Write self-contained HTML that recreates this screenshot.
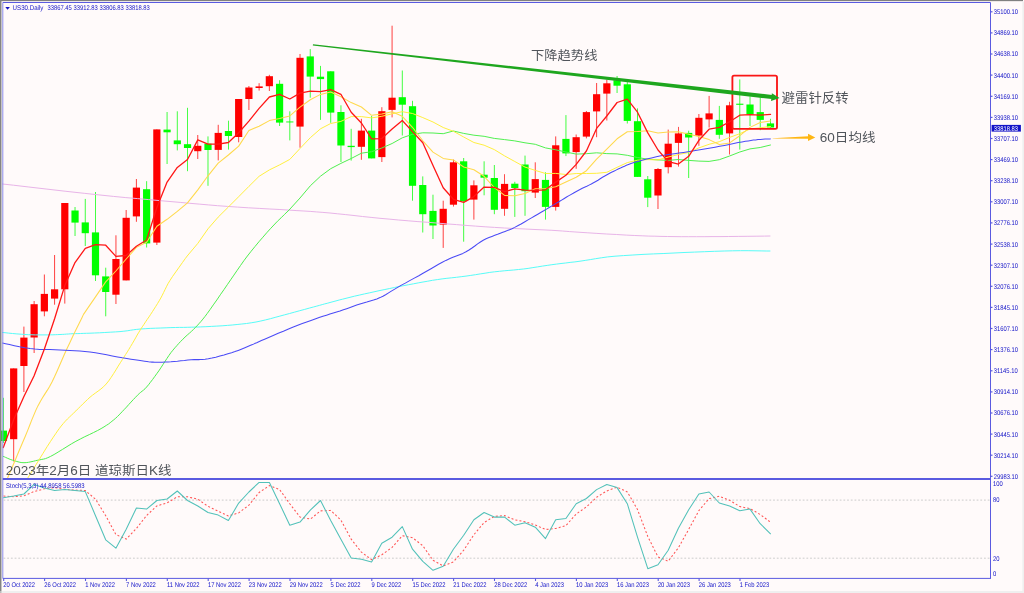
<!DOCTYPE html>
<html lang="zh">
<head>
<meta charset="utf-8">
<title>US30 Daily</title>
<style>
html,body{margin:0;padding:0;background:#fffafa;width:1024px;height:593px;overflow:hidden}
body{font-family:"Liberation Sans","Noto Sans CJK SC",sans-serif}
</style>
</head>
<body>
<svg width="1024" height="593" viewBox="0 0 1024 593" style="display:block;position:absolute;left:0;top:0;filter:blur(0.4px)">
<rect x="0" y="0" width="1024" height="593" fill="#fffafa"/>
<line x1="3.45" y1="397.8" x2="3.45" y2="443.0" stroke="#00ff00" stroke-width="0.85" opacity="0.88"/>
<rect x="-0.15" y="430.6" width="7.2" height="10.4" fill="#00ff00"/>
<line x1="13.68" y1="368.4" x2="13.68" y2="461.5" stroke="#ff0000" stroke-width="0.85" opacity="0.88"/>
<rect x="10.08" y="368.4" width="7.2" height="70.8" fill="#ff0000"/>
<line x1="23.90" y1="326.6" x2="23.90" y2="392.0" stroke="#ff0000" stroke-width="0.85" opacity="0.88"/>
<rect x="20.30" y="337.6" width="7.2" height="28.4" fill="#ff0000"/>
<line x1="34.13" y1="301.0" x2="34.13" y2="353.0" stroke="#ff0000" stroke-width="0.85" opacity="0.88"/>
<rect x="30.53" y="304.2" width="7.2" height="33.3" fill="#ff0000"/>
<line x1="44.36" y1="274.5" x2="44.36" y2="316.3" stroke="#ff0000" stroke-width="0.85" opacity="0.88"/>
<rect x="40.76" y="293.9" width="7.2" height="17.5" fill="#ff0000"/>
<line x1="54.59" y1="255.0" x2="54.59" y2="304.7" stroke="#ff0000" stroke-width="0.85" opacity="0.88"/>
<rect x="50.99" y="289.3" width="7.2" height="9.3" fill="#ff0000"/>
<line x1="64.81" y1="203.0" x2="64.81" y2="303.6" stroke="#ff0000" stroke-width="0.85" opacity="0.88"/>
<rect x="61.21" y="203.0" width="7.2" height="86.3" fill="#ff0000"/>
<line x1="75.04" y1="207.0" x2="75.04" y2="236.0" stroke="#00ff00" stroke-width="0.85" opacity="0.88"/>
<rect x="71.44" y="210.5" width="7.2" height="12.1" fill="#00ff00"/>
<line x1="85.27" y1="198.9" x2="85.27" y2="246.0" stroke="#00ff00" stroke-width="0.85" opacity="0.88"/>
<rect x="81.67" y="222.4" width="7.2" height="10.8" fill="#00ff00"/>
<line x1="95.49" y1="192.0" x2="95.49" y2="281.0" stroke="#00ff00" stroke-width="0.85" opacity="0.88"/>
<rect x="91.89" y="232.4" width="7.2" height="42.9" fill="#00ff00"/>
<line x1="105.72" y1="267.7" x2="105.72" y2="316.3" stroke="#00ff00" stroke-width="0.85" opacity="0.88"/>
<rect x="102.12" y="276.4" width="7.2" height="15.6" fill="#00ff00"/>
<line x1="115.95" y1="235.3" x2="115.95" y2="304.0" stroke="#ff0000" stroke-width="0.85" opacity="0.88"/>
<rect x="112.35" y="259.0" width="7.2" height="35.7" fill="#ff0000"/>
<line x1="126.17" y1="210.0" x2="126.17" y2="280.4" stroke="#ff0000" stroke-width="0.85" opacity="0.88"/>
<rect x="122.57" y="217.8" width="7.2" height="62.6" fill="#ff0000"/>
<line x1="136.40" y1="179.0" x2="136.40" y2="221.8" stroke="#ff0000" stroke-width="0.85" opacity="0.88"/>
<rect x="132.80" y="187.6" width="7.2" height="28.8" fill="#ff0000"/>
<line x1="146.63" y1="181.2" x2="146.63" y2="247.5" stroke="#00ff00" stroke-width="0.85" opacity="0.88"/>
<rect x="143.03" y="189.2" width="7.2" height="54.2" fill="#00ff00"/>
<line x1="156.85" y1="129.4" x2="156.85" y2="245.0" stroke="#ff0000" stroke-width="0.85" opacity="0.88"/>
<rect x="153.25" y="129.4" width="7.2" height="113.2" fill="#ff0000"/>
<line x1="167.08" y1="112.0" x2="167.08" y2="164.0" stroke="#00ff00" stroke-width="0.85" opacity="0.88"/>
<rect x="163.48" y="129.6" width="7.2" height="2.7" fill="#00ff00"/>
<line x1="177.31" y1="111.3" x2="177.31" y2="150.4" stroke="#00ff00" stroke-width="0.85" opacity="0.88"/>
<rect x="173.71" y="140.4" width="7.2" height="3.8" fill="#00ff00"/>
<line x1="187.54" y1="107.8" x2="187.54" y2="171.2" stroke="#00ff00" stroke-width="0.85" opacity="0.88"/>
<rect x="183.94" y="144.2" width="7.2" height="3.8" fill="#00ff00"/>
<line x1="197.76" y1="135.0" x2="197.76" y2="159.0" stroke="#ff0000" stroke-width="0.85" opacity="0.88"/>
<rect x="194.16" y="145.8" width="7.2" height="5.4" fill="#ff0000"/>
<line x1="207.99" y1="136.4" x2="207.99" y2="185.8" stroke="#00ff00" stroke-width="0.85" opacity="0.88"/>
<rect x="204.39" y="143.7" width="7.2" height="6.3" fill="#00ff00"/>
<line x1="218.22" y1="124.8" x2="218.22" y2="160.4" stroke="#ff0000" stroke-width="0.85" opacity="0.88"/>
<rect x="214.62" y="132.9" width="7.2" height="17.0" fill="#ff0000"/>
<line x1="228.44" y1="120.7" x2="228.44" y2="149.6" stroke="#00ff00" stroke-width="0.85" opacity="0.88"/>
<rect x="224.84" y="131.0" width="7.2" height="5.0" fill="#00ff00"/>
<line x1="238.67" y1="99.0" x2="238.67" y2="142.3" stroke="#ff0000" stroke-width="0.85" opacity="0.88"/>
<rect x="235.07" y="99.0" width="7.2" height="38.0" fill="#ff0000"/>
<line x1="248.90" y1="86.0" x2="248.90" y2="110.0" stroke="#ff0000" stroke-width="0.85" opacity="0.88"/>
<rect x="245.30" y="87.5" width="7.2" height="11.5" fill="#ff0000"/>
<line x1="259.12" y1="83.2" x2="259.12" y2="90.6" stroke="#ff0000" stroke-width="0.85" opacity="0.88"/>
<rect x="255.53" y="86.4" width="7.2" height="1.6" fill="#ff0000"/>
<line x1="269.35" y1="74.8" x2="269.35" y2="91.0" stroke="#ff0000" stroke-width="0.85" opacity="0.88"/>
<rect x="265.75" y="76.2" width="7.2" height="10.0" fill="#ff0000"/>
<line x1="279.58" y1="80.2" x2="279.58" y2="126.0" stroke="#00ff00" stroke-width="0.85" opacity="0.88"/>
<rect x="275.98" y="83.8" width="7.2" height="38.8" fill="#00ff00"/>
<line x1="289.81" y1="111.3" x2="289.81" y2="140.4" stroke="#00ff00" stroke-width="0.85" opacity="0.88"/>
<rect x="286.21" y="121.5" width="7.2" height="0.9" fill="#00ff00"/>
<line x1="300.03" y1="54.0" x2="300.03" y2="147.7" stroke="#ff0000" stroke-width="0.85" opacity="0.88"/>
<rect x="296.43" y="57.8" width="7.2" height="68.8" fill="#ff0000"/>
<line x1="310.26" y1="49.1" x2="310.26" y2="97.7" stroke="#00ff00" stroke-width="0.85" opacity="0.88"/>
<rect x="306.66" y="56.4" width="7.2" height="20.2" fill="#00ff00"/>
<line x1="320.49" y1="65.9" x2="320.49" y2="119.9" stroke="#00ff00" stroke-width="0.85" opacity="0.88"/>
<rect x="316.89" y="76.7" width="7.2" height="2.4" fill="#00ff00"/>
<line x1="330.71" y1="71.3" x2="330.71" y2="122.8" stroke="#00ff00" stroke-width="0.85" opacity="0.88"/>
<rect x="327.11" y="71.3" width="7.2" height="41.3" fill="#00ff00"/>
<line x1="340.94" y1="105.3" x2="340.94" y2="162.0" stroke="#00ff00" stroke-width="0.85" opacity="0.88"/>
<rect x="337.34" y="112.0" width="7.2" height="33.5" fill="#00ff00"/>
<line x1="351.17" y1="128.8" x2="351.17" y2="160.6" stroke="#00ff00" stroke-width="0.85" opacity="0.88"/>
<rect x="347.57" y="145.8" width="7.2" height="1.3" fill="#00ff00"/>
<line x1="361.39" y1="118.8" x2="361.39" y2="159.8" stroke="#ff0000" stroke-width="0.85" opacity="0.88"/>
<rect x="357.79" y="130.6" width="7.2" height="16.2" fill="#ff0000"/>
<line x1="371.62" y1="116.0" x2="371.62" y2="158.4" stroke="#00ff00" stroke-width="0.85" opacity="0.88"/>
<rect x="368.02" y="130.6" width="7.2" height="27.8" fill="#00ff00"/>
<line x1="381.85" y1="107.2" x2="381.85" y2="162.0" stroke="#ff0000" stroke-width="0.85" opacity="0.88"/>
<rect x="378.25" y="111.2" width="7.2" height="45.9" fill="#ff0000"/>
<line x1="392.08" y1="25.7" x2="392.08" y2="117.4" stroke="#ff0000" stroke-width="0.85" opacity="0.88"/>
<rect x="388.48" y="97.7" width="7.2" height="12.2" fill="#ff0000"/>
<line x1="402.30" y1="70.5" x2="402.30" y2="135.5" stroke="#00ff00" stroke-width="0.85" opacity="0.88"/>
<rect x="398.70" y="97.2" width="7.2" height="7.5" fill="#00ff00"/>
<line x1="412.53" y1="100.8" x2="412.53" y2="200.7" stroke="#00ff00" stroke-width="0.85" opacity="0.88"/>
<rect x="408.93" y="106.2" width="7.2" height="79.6" fill="#00ff00"/>
<line x1="422.76" y1="176.4" x2="422.76" y2="232.5" stroke="#00ff00" stroke-width="0.85" opacity="0.88"/>
<rect x="419.16" y="185.0" width="7.2" height="29.2" fill="#00ff00"/>
<line x1="432.98" y1="194.7" x2="432.98" y2="239.0" stroke="#00ff00" stroke-width="0.85" opacity="0.88"/>
<rect x="429.38" y="210.9" width="7.2" height="14.6" fill="#00ff00"/>
<line x1="443.21" y1="200.7" x2="443.21" y2="247.9" stroke="#ff0000" stroke-width="0.85" opacity="0.88"/>
<rect x="439.61" y="208.8" width="7.2" height="15.8" fill="#ff0000"/>
<line x1="453.44" y1="159.6" x2="453.44" y2="206.6" stroke="#ff0000" stroke-width="0.85" opacity="0.88"/>
<rect x="449.84" y="162.3" width="7.2" height="42.4" fill="#ff0000"/>
<line x1="463.67" y1="158.0" x2="463.67" y2="241.7" stroke="#00ff00" stroke-width="0.85" opacity="0.88"/>
<rect x="460.06" y="161.3" width="7.2" height="39.9" fill="#00ff00"/>
<line x1="473.89" y1="180.4" x2="473.89" y2="219.6" stroke="#ff0000" stroke-width="0.85" opacity="0.88"/>
<rect x="470.29" y="185.3" width="7.2" height="14.3" fill="#ff0000"/>
<line x1="484.12" y1="161.3" x2="484.12" y2="195.3" stroke="#00ff00" stroke-width="0.85" opacity="0.88"/>
<rect x="480.52" y="174.7" width="7.2" height="3.0" fill="#00ff00"/>
<line x1="494.35" y1="165.0" x2="494.35" y2="214.2" stroke="#00ff00" stroke-width="0.85" opacity="0.88"/>
<rect x="490.75" y="178.0" width="7.2" height="31.8" fill="#00ff00"/>
<line x1="504.57" y1="174.2" x2="504.57" y2="215.8" stroke="#ff0000" stroke-width="0.85" opacity="0.88"/>
<rect x="500.97" y="183.9" width="7.2" height="24.9" fill="#ff0000"/>
<line x1="514.80" y1="181.8" x2="514.80" y2="216.9" stroke="#00ff00" stroke-width="0.85" opacity="0.88"/>
<rect x="511.20" y="183.7" width="7.2" height="4.3" fill="#00ff00"/>
<line x1="525.03" y1="155.6" x2="525.03" y2="215.8" stroke="#00ff00" stroke-width="0.85" opacity="0.88"/>
<rect x="521.43" y="164.5" width="7.2" height="26.7" fill="#00ff00"/>
<line x1="535.25" y1="162.3" x2="535.25" y2="198.0" stroke="#ff0000" stroke-width="0.85" opacity="0.88"/>
<rect x="531.65" y="179.1" width="7.2" height="13.5" fill="#ff0000"/>
<line x1="545.48" y1="172.3" x2="545.48" y2="219.6" stroke="#00ff00" stroke-width="0.85" opacity="0.88"/>
<rect x="541.88" y="179.9" width="7.2" height="27.0" fill="#00ff00"/>
<line x1="555.71" y1="136.4" x2="555.71" y2="210.6" stroke="#ff0000" stroke-width="0.85" opacity="0.88"/>
<rect x="552.11" y="145.3" width="7.2" height="61.6" fill="#ff0000"/>
<line x1="565.94" y1="115.1" x2="565.94" y2="156.1" stroke="#00ff00" stroke-width="0.85" opacity="0.88"/>
<rect x="562.34" y="138.9" width="7.2" height="14.5" fill="#00ff00"/>
<line x1="576.16" y1="134.5" x2="576.16" y2="168.8" stroke="#ff0000" stroke-width="0.85" opacity="0.88"/>
<rect x="572.56" y="137.2" width="7.2" height="14.9" fill="#ff0000"/>
<line x1="586.39" y1="111.0" x2="586.39" y2="138.4" stroke="#ff0000" stroke-width="0.85" opacity="0.88"/>
<rect x="582.79" y="112.1" width="7.2" height="24.5" fill="#ff0000"/>
<line x1="596.62" y1="83.0" x2="596.62" y2="137.2" stroke="#ff0000" stroke-width="0.85" opacity="0.88"/>
<rect x="593.02" y="94.2" width="7.2" height="17.2" fill="#ff0000"/>
<line x1="606.84" y1="79.7" x2="606.84" y2="120.5" stroke="#ff0000" stroke-width="0.85" opacity="0.88"/>
<rect x="603.24" y="83.3" width="7.2" height="10.3" fill="#ff0000"/>
<line x1="617.07" y1="76.0" x2="617.07" y2="93.0" stroke="#00ff00" stroke-width="0.85" opacity="0.88"/>
<rect x="613.47" y="80.3" width="7.2" height="5.4" fill="#00ff00"/>
<line x1="627.30" y1="81.6" x2="627.30" y2="123.5" stroke="#00ff00" stroke-width="0.85" opacity="0.88"/>
<rect x="623.70" y="84.3" width="7.2" height="36.6" fill="#00ff00"/>
<line x1="637.52" y1="108.4" x2="637.52" y2="176.9" stroke="#00ff00" stroke-width="0.85" opacity="0.88"/>
<rect x="633.92" y="121.2" width="7.2" height="55.7" fill="#00ff00"/>
<line x1="647.75" y1="176.0" x2="647.75" y2="207.1" stroke="#00ff00" stroke-width="0.85" opacity="0.88"/>
<rect x="644.15" y="179.3" width="7.2" height="18.4" fill="#00ff00"/>
<line x1="657.98" y1="168.0" x2="657.98" y2="209.0" stroke="#ff0000" stroke-width="0.85" opacity="0.88"/>
<rect x="654.38" y="169.0" width="7.2" height="26.5" fill="#ff0000"/>
<line x1="668.21" y1="129.6" x2="668.21" y2="173.4" stroke="#ff0000" stroke-width="0.85" opacity="0.88"/>
<rect x="664.61" y="143.7" width="7.2" height="23.5" fill="#ff0000"/>
<line x1="678.43" y1="126.9" x2="678.43" y2="166.6" stroke="#ff0000" stroke-width="0.85" opacity="0.88"/>
<rect x="674.83" y="133.4" width="7.2" height="9.5" fill="#ff0000"/>
<line x1="688.66" y1="130.7" x2="688.66" y2="178.0" stroke="#00ff00" stroke-width="0.85" opacity="0.88"/>
<rect x="685.06" y="132.9" width="7.2" height="4.6" fill="#00ff00"/>
<line x1="698.89" y1="114.0" x2="698.89" y2="145.8" stroke="#ff0000" stroke-width="0.85" opacity="0.88"/>
<rect x="695.29" y="117.8" width="7.2" height="17.8" fill="#ff0000"/>
<line x1="709.11" y1="95.9" x2="709.11" y2="127.5" stroke="#ff0000" stroke-width="0.85" opacity="0.88"/>
<rect x="705.51" y="113.4" width="7.2" height="6.0" fill="#ff0000"/>
<line x1="719.34" y1="105.9" x2="719.34" y2="138.8" stroke="#00ff00" stroke-width="0.85" opacity="0.88"/>
<rect x="715.74" y="119.9" width="7.2" height="14.9" fill="#00ff00"/>
<line x1="729.57" y1="101.8" x2="729.57" y2="154.5" stroke="#ff0000" stroke-width="0.85" opacity="0.88"/>
<rect x="725.97" y="105.3" width="7.2" height="28.1" fill="#ff0000"/>
<line x1="739.79" y1="79.4" x2="739.79" y2="149.6" stroke="#00ff00" stroke-width="0.85" opacity="0.88"/>
<rect x="736.19" y="103.7" width="7.2" height="1.1" fill="#00ff00"/>
<line x1="750.02" y1="96.4" x2="750.02" y2="126.0" stroke="#00ff00" stroke-width="0.85" opacity="0.88"/>
<rect x="746.42" y="104.5" width="7.2" height="10.0" fill="#00ff00"/>
<line x1="760.25" y1="97.2" x2="760.25" y2="130.2" stroke="#00ff00" stroke-width="0.85" opacity="0.88"/>
<rect x="756.65" y="112.1" width="7.2" height="7.8" fill="#00ff00"/>
<line x1="770.48" y1="118.8" x2="770.48" y2="127.5" stroke="#00ff00" stroke-width="0.85" opacity="0.88"/>
<rect x="766.88" y="123.4" width="7.2" height="4.1" fill="#00ff00"/>
<polyline points="2.5,184.0 13.4,185.2 28.8,187.0 46.9,189.1 65.9,191.3 84.2,193.3 100.0,195.0 113.4,196.4 125.8,197.6 137.5,198.6 148.6,199.6 159.4,200.6 170.0,201.5 180.2,202.4 189.9,203.3 199.2,204.1 208.3,204.9 217.6,205.7 227.3,206.4 237.6,207.1 248.3,207.8 259.2,208.4 269.8,209.0 279.9,209.5 289.0,210.1 296.9,210.6 303.9,211.0 310.2,211.4 316.4,211.9 322.9,212.4 330.0,213.0 337.7,213.8 345.7,214.6 354.0,215.5 362.5,216.5 371.1,217.4 380.0,218.3 389.1,219.1 398.6,220.0 408.2,220.8 417.9,221.6 427.7,222.3 437.3,223.1 446.9,223.9 456.4,224.6 466.0,225.4 475.5,226.1 485.1,226.8 494.6,227.4 504.5,228.0 514.8,228.5 525.1,229.0 535.0,229.5 544.0,229.9 551.9,230.3 558.0,230.7 562.4,231.0 566.1,231.3 569.7,231.6 574.1,231.9 580.0,232.3 587.8,232.8 596.9,233.4 606.7,234.0 616.7,234.5 626.3,235.1 634.8,235.5 642.2,235.8 648.8,236.1 654.9,236.2 661.0,236.4 667.3,236.5 674.0,236.6 681.2,236.7 688.7,236.7 696.3,236.7 704.1,236.7 712.0,236.6 720.0,236.6 728.7,236.5 738.2,236.4 747.9,236.3 756.9,236.2 764.5,236.1 770.0,236.0" fill="none" stroke="#e8b4e8" stroke-width="1.0" stroke-linejoin="round" stroke-linecap="round" />
<polyline points="2.5,332.5 5.0,332.7 8.4,333.1 12.5,333.5 16.9,333.9 21.1,334.2 25.0,334.5 28.5,334.7 32.0,334.8 35.5,334.9 38.8,334.9 42.0,334.9 45.0,334.9 47.8,334.9 50.4,334.8 52.9,334.8 55.3,334.7 57.7,334.6 60.0,334.5 62.2,334.4 64.3,334.3 66.4,334.1 68.4,334.0 70.6,333.8 73.0,333.7 75.5,333.6 77.9,333.6 80.4,333.5 83.2,333.4 86.4,333.3 90.0,333.2 94.4,333.0 99.4,332.8 104.8,332.5 110.2,332.2 115.4,331.9 120.0,331.6 123.9,331.2 127.2,330.8 130.3,330.3 133.4,329.8 136.7,329.4 140.6,329.0 145.2,328.7 150.2,328.4 155.5,328.2 160.8,328.0 166.1,327.8 170.9,327.6 175.3,327.5 179.4,327.4 183.3,327.4 187.2,327.3 191.3,327.2 195.8,327.1 200.7,326.9 205.9,326.7 211.3,326.4 216.8,326.1 222.1,325.8 227.3,325.4 232.2,325.0 237.1,324.5 241.8,324.0 246.5,323.5 251.2,322.8 256.0,322.0 260.8,321.0 265.6,319.9 270.4,318.7 275.1,317.4 279.9,316.1 284.7,314.8 289.6,313.5 294.7,312.1 299.8,310.7 304.7,309.4 309.3,308.1 313.4,307.0 316.8,306.1 319.7,305.3 322.2,304.6 324.7,303.9 327.2,303.3 330.0,302.5 333.0,301.7 336.0,300.9 339.2,300.0 342.5,299.2 346.0,298.3 350.0,297.3 354.4,296.2 359.3,295.1 364.5,293.9 369.7,292.8 375.0,291.6 380.0,290.5 384.9,289.5 389.7,288.5 394.4,287.5 399.2,286.5 403.9,285.6 408.7,284.7 413.5,283.8 418.2,282.9 423.0,282.0 427.8,281.2 432.5,280.3 437.3,279.6 442.1,278.9 446.9,278.3 451.7,277.8 456.4,277.3 461.2,276.7 466.0,276.1 470.8,275.4 475.5,274.7 480.3,273.9 485.1,273.2 489.8,272.4 494.6,271.8 499.4,271.3 504.2,270.8 508.9,270.4 513.7,270.0 518.5,269.5 523.3,269.0 528.1,268.4 532.9,267.6 537.6,266.9 542.4,266.1 547.2,265.4 551.9,264.7 556.5,264.1 561.0,263.5 565.6,263.0 570.1,262.4 574.9,261.9 580.0,261.2 585.2,260.4 590.3,259.6 595.6,258.7 601.3,257.8 607.7,256.9 615.0,256.2 623.4,255.6 632.9,255.0 643.0,254.4 653.5,253.9 663.9,253.5 674.0,253.0 684.0,252.5 694.4,252.1 704.7,251.7 714.7,251.3 724.2,251.0 732.7,250.8 740.6,250.7 748.1,250.7 755.0,250.8 761.1,250.9 766.2,251.0 770.0,251.0" fill="none" stroke="#58fcf8" stroke-width="1.0" stroke-linejoin="round" stroke-linecap="round" />
<polyline points="3.3,456.4 4.3,456.8 5.6,457.4 7.2,458.1 9.0,458.9 10.8,459.6 12.6,460.2 14.3,460.7 16.2,461.3 18.0,461.8 19.9,462.3 21.9,462.6 24.0,462.7 26.2,462.6 28.5,462.3 30.9,461.8 33.3,461.3 35.6,460.7 37.9,460.2 39.9,459.8 41.8,459.4 43.5,459.1 45.5,458.6 47.8,457.7 50.6,456.4 54.1,454.5 58.1,452.1 62.5,449.4 67.0,446.6 71.5,443.8 75.9,441.3 80.3,439.0 84.8,436.7 89.3,434.6 93.6,432.5 97.6,430.5 101.1,428.6 104.0,426.9 106.3,425.4 108.4,424.1 110.2,422.7 111.9,421.3 113.8,419.8 115.7,418.2 117.4,416.6 119.1,414.9 120.8,413.1 122.5,411.3 124.4,409.3 126.5,407.1 128.7,404.6 131.0,402.1 133.3,399.6 135.5,397.3 137.5,395.2 139.2,393.6 140.7,392.3 142.1,391.2 143.5,390.1 145.0,388.8 146.6,387.0 148.5,384.8 150.4,382.3 152.5,379.6 154.6,376.7 156.7,373.8 158.8,370.9 160.8,367.9 162.8,364.8 164.9,361.6 166.9,358.5 168.9,355.5 170.9,352.7 172.9,350.2 174.9,347.8 176.9,345.6 178.8,343.4 180.8,341.3 182.9,339.2 185.0,337.1 187.2,335.1 189.4,333.2 191.6,331.2 193.7,329.2 195.8,327.1 197.7,325.1 199.4,323.2 201.1,321.3 202.9,319.1 204.9,316.6 207.3,313.4 210.1,309.5 213.3,304.9 216.8,300.0 220.3,294.8 223.9,289.7 227.3,284.7 230.6,279.9 233.9,275.1 237.2,270.3 240.5,265.5 243.9,260.7 247.4,256.0 251.1,251.3 255.0,246.5 258.9,241.8 262.9,237.2 266.7,232.8 270.3,228.8 273.9,225.0 277.5,221.2 281.1,217.8 284.3,214.6 287.0,212.0 289.0,210.1 300.0,198.0 310.3,185.8 320.5,176.2 330.7,168.7 340.9,163.4 351.2,158.5 361.4,153.2 371.6,151.7 381.8,148.0 392.1,143.5 402.3,137.8 412.5,134.3 422.8,132.8 433.0,133.0 443.2,133.7 453.4,131.0 463.7,133.4 473.9,135.2 484.1,136.3 494.3,138.4 504.6,139.6 514.8,140.9 525.0,142.8 535.3,144.3 545.5,147.9 555.7,149.8 565.9,152.0 576.2,154.1 586.4,153.7 596.6,152.8 606.8,153.6 617.1,153.9 627.3,155.3 637.5,157.5 647.8,159.2 658.0,159.9 668.2,160.4 678.4,159.5 688.7,160.4 698.9,161.1 709.1,161.4 719.3,159.7 729.6,156.0 739.8,152.0 750.0,148.9 760.2,147.5 770.5,145.0" fill="none" stroke="#50f050" stroke-width="1.0" stroke-linejoin="round" stroke-linecap="round" />
<polyline points="27.8,478.0 30.4,473.8 34.1,467.8 38.4,460.8 42.9,453.5 47.1,446.7 50.6,441.3 53.3,437.2 55.6,433.8 57.5,431.0 59.4,428.4 61.2,426.0 63.2,423.6 65.3,421.2 67.4,419.0 69.5,417.0 71.6,415.0 73.7,413.0 75.9,410.9 78.1,408.7 80.4,406.4 82.7,404.1 85.1,401.8 87.5,399.5 90.0,397.2 92.6,395.1 95.3,393.1 98.1,391.1 100.9,389.0 103.6,386.7 106.2,384.0 108.7,380.9 111.2,377.3 113.6,373.6 116.0,369.8 118.2,366.1 120.3,362.8 122.2,359.8 124.0,357.1 125.6,354.5 127.3,351.9 128.9,349.3 130.5,346.6 132.2,343.8 133.9,340.9 135.6,337.9 137.2,335.0 138.9,332.2 140.6,329.4 142.3,326.8 144.0,324.3 145.6,321.8 147.3,319.3 149.0,316.9 150.7,314.3 152.4,311.7 154.1,309.0 155.8,306.3 157.5,303.6 159.2,300.8 160.8,298.0 162.3,295.2 163.6,292.5 165.0,289.7 166.4,286.8 168.0,283.7 170.0,280.4 172.6,276.4 175.8,271.9 179.2,267.1 182.4,262.6 185.2,258.7 187.2,256.0 197.8,243.4 208.0,228.8 218.2,217.1 228.4,207.0 238.7,196.7 248.9,186.4 259.1,176.3 269.4,169.9 279.6,164.9 289.8,159.4 300.0,148.5 310.3,137.7 320.5,128.8 330.7,123.5 340.9,121.4 351.2,116.6 361.4,116.6 371.6,117.9 381.8,116.3 392.1,113.8 402.3,111.7 412.5,113.5 422.8,117.6 433.0,122.0 443.2,127.5 453.4,131.3 463.7,137.0 473.9,142.5 484.1,145.2 494.3,149.6 504.6,155.9 514.8,161.5 525.0,167.1 535.3,170.4 545.5,173.5 555.7,173.4 565.9,174.5 576.2,173.5 586.4,173.5 596.6,173.3 606.8,172.3 617.1,167.3 627.3,162.6 637.5,160.2 647.8,159.6 658.0,159.9 668.2,157.1 678.4,154.5 688.7,152.5 698.9,147.9 709.1,144.3 719.3,141.7 729.6,137.4 739.8,133.7 750.0,129.0 760.2,127.8 770.5,126.5" fill="none" stroke="#fff040" stroke-width="1.0" stroke-linejoin="round" stroke-linecap="round" />
<polyline points="7.6,478.0 9.6,473.3 12.4,466.7 15.7,459.0 19.1,450.8 22.4,443.0 25.3,436.2 27.7,430.4 29.8,425.0 31.8,419.9 33.8,415.1 35.8,410.4 37.9,405.9 40.2,401.7 42.5,397.8 44.8,394.1 47.2,390.4 49.6,386.4 52.0,382.0 54.4,377.0 56.8,371.7 59.2,366.2 61.7,360.5 64.2,354.7 66.8,349.0 69.7,342.9 72.8,336.3 76.1,329.6 79.1,323.4 81.7,318.2 83.5,314.4 95.5,296.9 105.7,281.9 115.9,271.0 126.2,259.0 136.4,247.4 146.6,242.3 156.9,226.3 167.1,219.3 177.3,211.4 187.5,202.9 197.8,189.9 208.0,175.8 218.2,163.1 228.4,155.0 238.7,146.1 248.9,130.5 259.1,126.2 269.4,120.6 279.6,118.4 289.8,115.9 300.0,107.1 310.3,99.7 320.5,94.4 330.7,92.0 340.9,96.7 351.2,102.6 361.4,107.0 371.6,115.3 381.8,114.1 392.1,111.7 402.3,116.3 412.5,127.3 422.8,140.8 433.0,152.1 443.2,158.4 453.4,159.9 463.7,167.0 473.9,169.7 484.1,176.3 494.3,187.5 504.6,195.4 514.8,195.7 525.0,193.4 535.3,188.7 545.5,188.5 555.7,186.8 565.9,182.1 576.2,177.3 586.4,170.7 596.6,159.1 606.8,149.1 617.1,138.8 627.3,131.8 637.5,131.6 647.8,130.7 658.0,133.0 668.2,132.1 678.4,131.7 688.7,134.2 698.9,136.6 709.1,139.6 719.3,144.5 729.6,142.9 739.8,135.7 750.0,127.4 760.2,122.5 770.5,120.9" fill="none" stroke="#ffd94c" stroke-width="1.05" stroke-linejoin="round" stroke-linecap="round" />
<polyline points="2.5,343.0 5.5,343.7 9.5,344.6 14.4,345.7 19.6,346.8 25.0,347.8 30.0,348.6 34.9,349.1 39.8,349.4 44.8,349.5 49.9,349.6 55.0,349.8 60.0,350.0 65.0,350.3 69.9,350.5 74.9,350.7 79.8,351.0 84.9,351.4 90.0,352.0 95.4,352.8 101.0,353.7 106.7,354.8 112.3,355.9 117.6,356.9 122.4,357.8 126.8,358.5 131.0,359.2 134.9,359.8 138.5,360.3 141.7,360.8 144.6,361.2 146.9,361.5 148.6,361.8 150.0,361.9 151.3,362.1 152.8,362.1 154.7,362.2 157.0,362.2 159.5,362.2 162.2,362.2 165.0,362.1 167.9,362.0 170.9,361.8 174.1,361.5 177.4,361.2 180.9,360.8 184.4,360.5 187.9,360.1 191.1,359.8 194.1,359.6 196.8,359.6 199.5,359.6 202.2,359.5 205.1,359.3 208.3,358.8 211.9,358.1 215.8,357.2 219.9,356.1 224.0,355.0 227.9,353.8 231.6,352.7 235.0,351.6 238.2,350.4 241.3,349.2 244.3,348.0 247.2,346.8 250.0,345.6 252.5,344.6 254.6,343.6 256.7,342.7 258.8,341.7 261.4,340.6 264.6,339.2 268.6,337.5 273.2,335.5 278.2,333.3 283.4,331.2 288.5,329.0 293.3,327.1 297.8,325.3 302.3,323.6 306.7,322.0 311.0,320.5 315.1,319.0 319.1,317.6 322.9,316.3 326.5,315.2 329.9,314.1 333.3,313.1 336.6,312.1 340.0,311.0 343.4,309.8 346.7,308.7 350.1,307.5 353.4,306.3 356.7,305.1 360.0,304.0 363.4,302.9 366.8,302.0 370.2,301.0 373.5,300.0 376.8,298.9 380.0,297.6 382.9,296.2 385.6,294.7 388.2,293.1 390.9,291.4 393.9,289.6 397.2,287.6 401.0,285.4 405.3,283.1 409.7,280.6 414.3,278.1 418.8,275.7 423.0,273.3 427.0,271.0 431.0,268.7 434.8,266.5 438.6,264.3 442.3,262.3 445.9,260.4 449.4,258.8 452.9,257.3 456.3,256.0 459.6,254.7 462.9,253.4 466.0,251.8 469.0,250.0 472.0,248.0 474.8,246.0 477.6,243.9 480.4,242.0 483.2,240.3 486.1,238.8 489.0,237.6 491.9,236.4 494.8,235.3 497.6,234.3 500.3,233.2 502.8,232.2 505.1,231.4 507.3,230.6 509.6,229.7 512.0,228.7 514.7,227.4 517.7,225.8 521.1,224.0 524.5,222.0 528.0,219.9 531.5,217.9 534.7,216.0 537.8,214.2 540.7,212.5 543.7,210.8 546.5,209.1 549.2,207.5 551.9,205.9 554.5,204.4 556.9,202.9 559.3,201.5 561.6,200.1 563.9,198.7 566.2,197.3 568.5,195.9 570.8,194.6 573.2,193.3 575.4,192.0 577.7,190.7 580.0,189.5 582.3,188.3 584.5,187.2 586.8,186.2 589.0,185.1 591.3,184.0 593.5,182.8 595.8,181.5 598.0,180.2 600.2,178.8 602.5,177.3 604.8,176.0 607.0,174.7 609.2,173.5 611.5,172.3 613.8,171.2 616.0,170.1 618.2,169.0 620.5,168.0 622.6,167.0 624.5,166.2 626.4,165.3 628.5,164.5 631.0,163.6 634.0,162.6 637.7,161.5 642.0,160.3 646.7,159.1 651.5,157.9 656.3,156.8 661.0,155.8 665.5,155.0 670.0,154.3 674.5,153.7 679.0,153.1 683.5,152.5 688.0,151.8 692.5,151.1 697.0,150.3 701.5,149.6 706.0,148.8 710.5,148.0 715.0,147.2 719.6,146.3 724.4,145.4 729.2,144.4 733.8,143.5 738.1,142.6 742.0,141.9 745.3,141.3 748.3,140.9 750.9,140.5 753.3,140.1 755.7,139.9 758.0,139.6 760.4,139.4 762.8,139.2 765.1,139.1 767.2,139.0 769.0,139.0 770.3,138.9" fill="none" stroke="#4a4af6" stroke-width="1.05" stroke-linejoin="round" stroke-linecap="round" />
<polyline points="3.3,447.6 13.5,420.0 23.7,397.0 34.0,376.0 44.4,349.0 54.6,318.7 64.8,285.6 75.0,262.6 85.3,248.4 95.5,244.7 105.7,245.2 115.9,256.4 126.2,255.5 136.4,246.3 146.6,240.0 156.9,207.4 167.1,182.1 177.3,167.4 187.5,159.5 197.8,139.9 208.0,144.1 218.2,144.2 228.4,142.5 238.7,132.7 248.9,121.1 259.1,108.4 269.4,97.0 279.6,94.3 289.8,99.0 300.0,93.1 310.3,91.1 320.5,91.7 330.7,89.7 340.9,94.3 351.2,112.2 361.4,123.0 371.6,138.8 381.8,138.6 392.1,129.0 402.3,120.5 412.5,131.6 422.8,142.7 433.0,165.6 443.2,187.8 453.4,199.3 463.7,202.4 473.9,196.6 484.1,187.1 494.3,187.3 504.6,191.6 514.8,188.9 525.0,190.1 535.3,190.4 545.5,189.8 555.7,182.1 565.9,175.2 576.2,164.4 586.4,151.0 596.6,128.4 606.8,116.0 617.1,102.5 627.3,99.2 637.5,112.2 647.8,132.9 658.0,150.0 668.2,161.6 678.4,164.1 688.7,156.3 698.9,140.3 709.1,129.2 719.3,127.4 729.6,121.8 739.8,115.2 750.0,114.6 760.2,115.1 770.5,114.4" fill="none" stroke="#ff1616" stroke-width="1.3" stroke-linejoin="round" stroke-linecap="round" />
<rect x="732.4" y="75.6" width="44.6" height="53.2" rx="1.6" fill="none" stroke="#fa1616" stroke-width="1.85"/>
<polygon points="312.8,45.4 771.8,99.1 772.2,94.9 313.0,44.2" fill="#1ea61e"/>
<polygon points="779.6,98.0 771.0,100.9 771.9,93.2" fill="#1ea61e"/>
<polygon points="772.7,138.15 808.5,136.2 808.5,138.7 772.7,138.6" fill="#ffb612"/>
<polygon points="815.3,137.4 808,133.8 808,141.0" fill="#ffb612"/>
<rect x="0" y="0" width="1023" height="1.15" fill="#808080"/>
<rect x="0" y="0" width="1.45" height="592" fill="#848484"/>
<rect x="0" y="591" width="1024" height="2" fill="#efefef"/>
<rect x="1022.4" y="1.6" width="1.6" height="593" fill="#efefef"/>
<rect x="0" y="591" width="1.5" height="2" fill="#bbb"/>
<line x1="2.8" y1="2.5" x2="990.5" y2="2.5" stroke="#5a5ae0" stroke-width="1"/>
<line x1="2.8" y1="2.5" x2="2.8" y2="578.4" stroke="#8a8aea" stroke-width="1"/>
<line x1="990.5" y1="2.5" x2="990.5" y2="578.4" stroke="#5a5ae0" stroke-width="1"/>
<line x1="2.8" y1="479.0" x2="990.5" y2="479.0" stroke="#5a5ae0" stroke-width="1.9"/>
<line x1="2.8" y1="578.4" x2="991.0" y2="578.4" stroke="#5a5ae0" stroke-width="1"/>
<line x1="990.5" y1="11.8" x2="992.5" y2="11.8" stroke="#5a5ae0" stroke-width="1.2"/>
<text transform="translate(993.80,14.25) scale(0.857,1)" font-family="Liberation Sans, sans-serif" font-size="6.8" fill="#1414c8" text-rendering="geometricPrecision">35100.10</text>
<line x1="990.5" y1="32.9" x2="992.5" y2="32.9" stroke="#5a5ae0" stroke-width="1.2"/>
<text transform="translate(993.80,35.37) scale(0.857,1)" font-family="Liberation Sans, sans-serif" font-size="6.8" fill="#1414c8" text-rendering="geometricPrecision">34869.10</text>
<line x1="990.5" y1="54.0" x2="992.5" y2="54.0" stroke="#5a5ae0" stroke-width="1.2"/>
<text transform="translate(993.80,56.48) scale(0.857,1)" font-family="Liberation Sans, sans-serif" font-size="6.8" fill="#1414c8" text-rendering="geometricPrecision">34638.10</text>
<line x1="990.5" y1="75.1" x2="992.5" y2="75.1" stroke="#5a5ae0" stroke-width="1.2"/>
<text transform="translate(993.80,77.59) scale(0.857,1)" font-family="Liberation Sans, sans-serif" font-size="6.8" fill="#1414c8" text-rendering="geometricPrecision">34400.10</text>
<line x1="990.5" y1="96.3" x2="992.5" y2="96.3" stroke="#5a5ae0" stroke-width="1.2"/>
<text transform="translate(993.80,98.71) scale(0.857,1)" font-family="Liberation Sans, sans-serif" font-size="6.8" fill="#1414c8" text-rendering="geometricPrecision">34169.10</text>
<line x1="990.5" y1="117.4" x2="992.5" y2="117.4" stroke="#5a5ae0" stroke-width="1.2"/>
<text transform="translate(993.80,119.82) scale(0.857,1)" font-family="Liberation Sans, sans-serif" font-size="6.8" fill="#1414c8" text-rendering="geometricPrecision">33938.10</text>
<line x1="990.5" y1="138.5" x2="992.5" y2="138.5" stroke="#5a5ae0" stroke-width="1.2"/>
<text transform="translate(993.80,140.94) scale(0.857,1)" font-family="Liberation Sans, sans-serif" font-size="6.8" fill="#1414c8" text-rendering="geometricPrecision">33707.10</text>
<line x1="990.5" y1="159.6" x2="992.5" y2="159.6" stroke="#5a5ae0" stroke-width="1.2"/>
<text transform="translate(993.80,162.05) scale(0.857,1)" font-family="Liberation Sans, sans-serif" font-size="6.8" fill="#1414c8" text-rendering="geometricPrecision">33469.10</text>
<line x1="990.5" y1="180.7" x2="992.5" y2="180.7" stroke="#5a5ae0" stroke-width="1.2"/>
<text transform="translate(993.80,183.17) scale(0.857,1)" font-family="Liberation Sans, sans-serif" font-size="6.8" fill="#1414c8" text-rendering="geometricPrecision">33238.10</text>
<line x1="990.5" y1="201.8" x2="992.5" y2="201.8" stroke="#5a5ae0" stroke-width="1.2"/>
<text transform="translate(993.80,204.28) scale(0.857,1)" font-family="Liberation Sans, sans-serif" font-size="6.8" fill="#1414c8" text-rendering="geometricPrecision">33007.10</text>
<line x1="990.5" y1="222.9" x2="992.5" y2="222.9" stroke="#5a5ae0" stroke-width="1.2"/>
<text transform="translate(993.80,225.40) scale(0.857,1)" font-family="Liberation Sans, sans-serif" font-size="6.8" fill="#1414c8" text-rendering="geometricPrecision">32776.10</text>
<line x1="990.5" y1="244.1" x2="992.5" y2="244.1" stroke="#5a5ae0" stroke-width="1.2"/>
<text transform="translate(993.80,246.51) scale(0.857,1)" font-family="Liberation Sans, sans-serif" font-size="6.8" fill="#1414c8" text-rendering="geometricPrecision">32538.10</text>
<line x1="990.5" y1="265.2" x2="992.5" y2="265.2" stroke="#5a5ae0" stroke-width="1.2"/>
<text transform="translate(993.80,267.63) scale(0.857,1)" font-family="Liberation Sans, sans-serif" font-size="6.8" fill="#1414c8" text-rendering="geometricPrecision">32307.10</text>
<line x1="990.5" y1="286.3" x2="992.5" y2="286.3" stroke="#5a5ae0" stroke-width="1.2"/>
<text transform="translate(993.80,288.75) scale(0.857,1)" font-family="Liberation Sans, sans-serif" font-size="6.8" fill="#1414c8" text-rendering="geometricPrecision">32076.10</text>
<line x1="990.5" y1="307.4" x2="992.5" y2="307.4" stroke="#5a5ae0" stroke-width="1.2"/>
<text transform="translate(993.80,309.86) scale(0.857,1)" font-family="Liberation Sans, sans-serif" font-size="6.8" fill="#1414c8" text-rendering="geometricPrecision">31845.10</text>
<line x1="990.5" y1="328.5" x2="992.5" y2="328.5" stroke="#5a5ae0" stroke-width="1.2"/>
<text transform="translate(993.80,330.97) scale(0.857,1)" font-family="Liberation Sans, sans-serif" font-size="6.8" fill="#1414c8" text-rendering="geometricPrecision">31607.10</text>
<line x1="990.5" y1="349.6" x2="992.5" y2="349.6" stroke="#5a5ae0" stroke-width="1.2"/>
<text transform="translate(993.80,352.09) scale(0.857,1)" font-family="Liberation Sans, sans-serif" font-size="6.8" fill="#1414c8" text-rendering="geometricPrecision">31376.10</text>
<line x1="990.5" y1="370.8" x2="992.5" y2="370.8" stroke="#5a5ae0" stroke-width="1.2"/>
<text transform="translate(993.80,373.20) scale(0.857,1)" font-family="Liberation Sans, sans-serif" font-size="6.8" fill="#1414c8" text-rendering="geometricPrecision">31145.10</text>
<line x1="990.5" y1="391.9" x2="992.5" y2="391.9" stroke="#5a5ae0" stroke-width="1.2"/>
<text transform="translate(993.80,394.32) scale(0.857,1)" font-family="Liberation Sans, sans-serif" font-size="6.8" fill="#1414c8" text-rendering="geometricPrecision">30914.10</text>
<line x1="990.5" y1="413.0" x2="992.5" y2="413.0" stroke="#5a5ae0" stroke-width="1.2"/>
<text transform="translate(993.80,415.43) scale(0.857,1)" font-family="Liberation Sans, sans-serif" font-size="6.8" fill="#1414c8" text-rendering="geometricPrecision">30676.10</text>
<line x1="990.5" y1="434.1" x2="992.5" y2="434.1" stroke="#5a5ae0" stroke-width="1.2"/>
<text transform="translate(993.80,436.55) scale(0.857,1)" font-family="Liberation Sans, sans-serif" font-size="6.8" fill="#1414c8" text-rendering="geometricPrecision">30445.10</text>
<line x1="990.5" y1="455.2" x2="992.5" y2="455.2" stroke="#5a5ae0" stroke-width="1.2"/>
<text transform="translate(993.80,457.66) scale(0.857,1)" font-family="Liberation Sans, sans-serif" font-size="6.8" fill="#1414c8" text-rendering="geometricPrecision">30214.10</text>
<line x1="990.5" y1="476.3" x2="992.5" y2="476.3" stroke="#5a5ae0" stroke-width="1.2"/>
<text transform="translate(993.80,478.78) scale(0.857,1)" font-family="Liberation Sans, sans-serif" font-size="6.8" fill="#1414c8" text-rendering="geometricPrecision">29983.10</text>
<rect x="991.6" y="124.9" width="29.3" height="6.7" fill="#1212c8"/>
<text transform="translate(993.80,130.75) scale(0.857,1)" font-family="Liberation Sans, sans-serif" font-size="6.8" fill="#ffffff" text-rendering="geometricPrecision">33818.83</text>
<text transform="translate(993.00,486.05) scale(0.857,1)" font-family="Liberation Sans, sans-serif" font-size="6.8" fill="#1414c8" text-rendering="geometricPrecision">100</text>
<text transform="translate(993.00,502.15) scale(0.857,1)" font-family="Liberation Sans, sans-serif" font-size="6.8" fill="#1414c8" text-rendering="geometricPrecision">80</text>
<text transform="translate(993.00,561.25) scale(0.857,1)" font-family="Liberation Sans, sans-serif" font-size="6.8" fill="#1414c8" text-rendering="geometricPrecision">20</text>
<text transform="translate(993.00,576.25) scale(0.857,1)" font-family="Liberation Sans, sans-serif" font-size="6.8" fill="#1414c8" text-rendering="geometricPrecision">0</text>
<line x1="3.5" y1="500.1" x2="989.5" y2="500.1" stroke="#cccccc" stroke-width="1" stroke-dasharray="1.8,1.9"/>
<line x1="3.5" y1="558.2" x2="989.5" y2="558.2" stroke="#cccccc" stroke-width="1" stroke-dasharray="1.8,1.9"/>
<polyline points="3.5,496.1 13.7,496.7 23.9,495.9 34.1,491.5 44.4,488.8 54.6,487.6 64.8,489.3 75.0,490.1 85.3,490.5 95.5,499.2 105.7,515.7 115.9,534.6 126.2,539.1 136.4,528.5 146.6,515.5 156.9,505.9 167.1,502.9 177.3,496.8 187.5,496.8 197.8,499.2 208.0,506.3 218.2,511.2 228.4,516.0 238.7,512.9 248.9,505.2 259.1,492.5 269.4,485.6 279.6,489.5 289.8,503.8 300.0,517.0 310.3,519.1 320.5,510.9 330.7,510.4 340.9,520.1 351.2,539.2 361.4,552.1 371.6,559.7 381.8,554.8 392.1,547.4 402.3,535.7 412.5,537.7 422.8,545.7 433.0,560.3 443.2,566.0 453.4,561.9 463.7,550.2 473.9,534.7 484.1,522.5 494.3,516.4 504.6,515.6 514.8,519.8 525.0,521.7 535.3,525.0 545.5,529.5 555.7,528.5 565.9,525.6 576.2,514.0 586.4,506.9 596.6,497.3 606.8,490.9 617.1,487.2 627.3,491.9 637.5,509.5 647.8,536.5 658.0,556.9 668.2,561.2 678.4,547.7 688.7,529.4 698.9,510.6 709.1,498.6 719.3,496.3 729.6,500.3 739.8,506.6 750.0,508.6 760.2,514.5 770.5,522.2" fill="none" stroke="#ff5454" stroke-width="1.05" stroke-linejoin="round" stroke-linecap="butt" stroke-dasharray="2,2.1"/>
<polyline points="3.5,497.7 13.7,496.0 23.9,494.0 34.1,484.4 44.4,488.0 54.6,490.4 64.8,489.6 75.0,490.4 85.3,491.6 95.5,515.7 105.7,539.8 115.9,548.2 126.2,529.2 136.4,508.1 146.6,509.1 156.9,500.5 167.1,499.0 177.3,491.0 187.5,500.5 197.8,506.0 208.0,512.5 218.2,515.1 228.4,520.5 238.7,503.1 248.9,492.0 259.1,482.4 269.4,482.4 279.6,503.7 289.8,525.2 300.0,522.1 310.3,510.1 320.5,500.5 330.7,520.5 340.9,539.2 351.2,557.9 361.4,559.3 371.6,561.9 381.8,543.2 392.1,537.2 402.3,526.6 412.5,549.2 422.8,561.3 433.0,570.3 443.2,566.3 453.4,549.2 463.7,535.2 473.9,519.7 484.1,512.5 494.3,517.1 504.6,517.1 514.8,525.2 525.0,522.7 535.3,527.2 545.5,538.6 555.7,519.7 565.9,518.5 576.2,503.7 586.4,498.5 596.6,489.6 606.8,484.5 617.1,487.6 627.3,503.7 637.5,537.2 647.8,568.7 658.0,564.7 668.2,550.2 678.4,528.2 688.7,509.7 698.9,494.0 709.1,492.0 719.3,503.0 729.6,506.0 739.8,510.7 750.0,509.1 760.2,523.7 770.5,533.8" fill="none" stroke="#52c1b9" stroke-width="1.05" stroke-linejoin="round" stroke-linecap="round" />
<line x1="3.7" y1="578.4" x2="3.7" y2="581.0" stroke="#5a5ae0" stroke-width="1.1"/>
<text transform="translate(3.35,586.90) scale(0.857,1)" font-family="Liberation Sans, sans-serif" font-size="6.8" fill="#1414c8" text-rendering="geometricPrecision">20 Oct 2022</text>
<line x1="44.6" y1="578.4" x2="44.6" y2="581.0" stroke="#5a5ae0" stroke-width="1.1"/>
<text transform="translate(44.26,586.90) scale(0.857,1)" font-family="Liberation Sans, sans-serif" font-size="6.8" fill="#1414c8" text-rendering="geometricPrecision">26 Oct 2022</text>
<line x1="85.5" y1="578.4" x2="85.5" y2="581.0" stroke="#5a5ae0" stroke-width="1.1"/>
<text transform="translate(85.17,586.90) scale(0.857,1)" font-family="Liberation Sans, sans-serif" font-size="6.8" fill="#1414c8" text-rendering="geometricPrecision">1 Nov 2022</text>
<line x1="126.4" y1="578.4" x2="126.4" y2="581.0" stroke="#5a5ae0" stroke-width="1.1"/>
<text transform="translate(126.07,586.90) scale(0.857,1)" font-family="Liberation Sans, sans-serif" font-size="6.8" fill="#1414c8" text-rendering="geometricPrecision">7 Nov 2022</text>
<line x1="167.3" y1="578.4" x2="167.3" y2="581.0" stroke="#5a5ae0" stroke-width="1.1"/>
<text transform="translate(166.98,586.90) scale(0.857,1)" font-family="Liberation Sans, sans-serif" font-size="6.8" fill="#1414c8" text-rendering="geometricPrecision">11 Nov 2022</text>
<line x1="208.2" y1="578.4" x2="208.2" y2="581.0" stroke="#5a5ae0" stroke-width="1.1"/>
<text transform="translate(207.89,586.90) scale(0.857,1)" font-family="Liberation Sans, sans-serif" font-size="6.8" fill="#1414c8" text-rendering="geometricPrecision">17 Nov 2022</text>
<line x1="249.1" y1="578.4" x2="249.1" y2="581.0" stroke="#5a5ae0" stroke-width="1.1"/>
<text transform="translate(248.80,586.90) scale(0.857,1)" font-family="Liberation Sans, sans-serif" font-size="6.8" fill="#1414c8" text-rendering="geometricPrecision">23 Nov 2022</text>
<line x1="290.0" y1="578.4" x2="290.0" y2="581.0" stroke="#5a5ae0" stroke-width="1.1"/>
<text transform="translate(289.71,586.90) scale(0.857,1)" font-family="Liberation Sans, sans-serif" font-size="6.8" fill="#1414c8" text-rendering="geometricPrecision">29 Nov 2022</text>
<line x1="330.9" y1="578.4" x2="330.9" y2="581.0" stroke="#5a5ae0" stroke-width="1.1"/>
<text transform="translate(330.61,586.90) scale(0.857,1)" font-family="Liberation Sans, sans-serif" font-size="6.8" fill="#1414c8" text-rendering="geometricPrecision">5 Dec 2022</text>
<line x1="371.8" y1="578.4" x2="371.8" y2="581.0" stroke="#5a5ae0" stroke-width="1.1"/>
<text transform="translate(371.52,586.90) scale(0.857,1)" font-family="Liberation Sans, sans-serif" font-size="6.8" fill="#1414c8" text-rendering="geometricPrecision">9 Dec 2022</text>
<line x1="412.7" y1="578.4" x2="412.7" y2="581.0" stroke="#5a5ae0" stroke-width="1.1"/>
<text transform="translate(412.43,586.90) scale(0.857,1)" font-family="Liberation Sans, sans-serif" font-size="6.8" fill="#1414c8" text-rendering="geometricPrecision">15 Dec 2022</text>
<line x1="453.6" y1="578.4" x2="453.6" y2="581.0" stroke="#5a5ae0" stroke-width="1.1"/>
<text transform="translate(453.34,586.90) scale(0.857,1)" font-family="Liberation Sans, sans-serif" font-size="6.8" fill="#1414c8" text-rendering="geometricPrecision">21 Dec 2022</text>
<line x1="494.5" y1="578.4" x2="494.5" y2="581.0" stroke="#5a5ae0" stroke-width="1.1"/>
<text transform="translate(494.25,586.90) scale(0.857,1)" font-family="Liberation Sans, sans-serif" font-size="6.8" fill="#1414c8" text-rendering="geometricPrecision">28 Dec 2022</text>
<line x1="535.5" y1="578.4" x2="535.5" y2="581.0" stroke="#5a5ae0" stroke-width="1.1"/>
<text transform="translate(535.15,586.90) scale(0.857,1)" font-family="Liberation Sans, sans-serif" font-size="6.8" fill="#1414c8" text-rendering="geometricPrecision">4 Jan 2023</text>
<line x1="576.4" y1="578.4" x2="576.4" y2="581.0" stroke="#5a5ae0" stroke-width="1.1"/>
<text transform="translate(576.06,586.90) scale(0.857,1)" font-family="Liberation Sans, sans-serif" font-size="6.8" fill="#1414c8" text-rendering="geometricPrecision">10 Jan 2023</text>
<line x1="617.3" y1="578.4" x2="617.3" y2="581.0" stroke="#5a5ae0" stroke-width="1.1"/>
<text transform="translate(616.97,586.90) scale(0.857,1)" font-family="Liberation Sans, sans-serif" font-size="6.8" fill="#1414c8" text-rendering="geometricPrecision">16 Jan 2023</text>
<line x1="658.2" y1="578.4" x2="658.2" y2="581.0" stroke="#5a5ae0" stroke-width="1.1"/>
<text transform="translate(657.88,586.90) scale(0.857,1)" font-family="Liberation Sans, sans-serif" font-size="6.8" fill="#1414c8" text-rendering="geometricPrecision">20 Jan 2023</text>
<line x1="699.1" y1="578.4" x2="699.1" y2="581.0" stroke="#5a5ae0" stroke-width="1.1"/>
<text transform="translate(698.79,586.90) scale(0.857,1)" font-family="Liberation Sans, sans-serif" font-size="6.8" fill="#1414c8" text-rendering="geometricPrecision">26 Jan 2023</text>
<line x1="740.0" y1="578.4" x2="740.0" y2="581.0" stroke="#5a5ae0" stroke-width="1.1"/>
<text transform="translate(739.69,586.90) scale(0.857,1)" font-family="Liberation Sans, sans-serif" font-size="6.8" fill="#1414c8" text-rendering="geometricPrecision">1 Feb 2023</text>
<polygon points="5.3,7.0 9.9,7.0 7.6,9.7" fill="#1010c4"/>
<text transform="translate(12.60,10.30) scale(0.905,1)" font-family="Liberation Sans, sans-serif" font-size="6.8" fill="#1414c8" text-rendering="geometricPrecision">US30.Daily</text>
<text transform="translate(47.50,10.30) scale(0.859,1)" font-family="Liberation Sans, sans-serif" font-size="6.8" fill="#1414c8" text-rendering="geometricPrecision">33867.45 33912.83 33806.83 33818.83</text>
<text transform="translate(6.10,488.25) scale(0.872,1)" font-family="Liberation Sans, sans-serif" font-size="6.8" fill="#1414c8" text-rendering="geometricPrecision">Stoch(5,3,3) 44.8958 56.5983</text>
<text transform="translate(531,60.3) scale(1,0.92)" font-size="13.3" font-family="Liberation Sans, Noto Sans CJK SC, sans-serif" fill="#50545a">下降趋势线</text>
<text transform="translate(781.6,102.1) scale(1,0.94)" font-size="13.4" font-family="Liberation Sans, Noto Sans CJK SC, sans-serif" fill="#50545a">避雷针反转</text>
<text transform="translate(819.8,142.0) scale(1,0.92)" font-size="13.55" font-family="Liberation Sans, Noto Sans CJK SC, sans-serif" fill="#50545a">60日均线</text>
<text transform="translate(5.8,474.5) scale(1,0.92)" font-size="13.5" font-family="Liberation Sans, Noto Sans CJK SC, sans-serif" fill="#50545a">2023年2月6日 道琼斯日K线</text>
</svg>
</body>
</html>
